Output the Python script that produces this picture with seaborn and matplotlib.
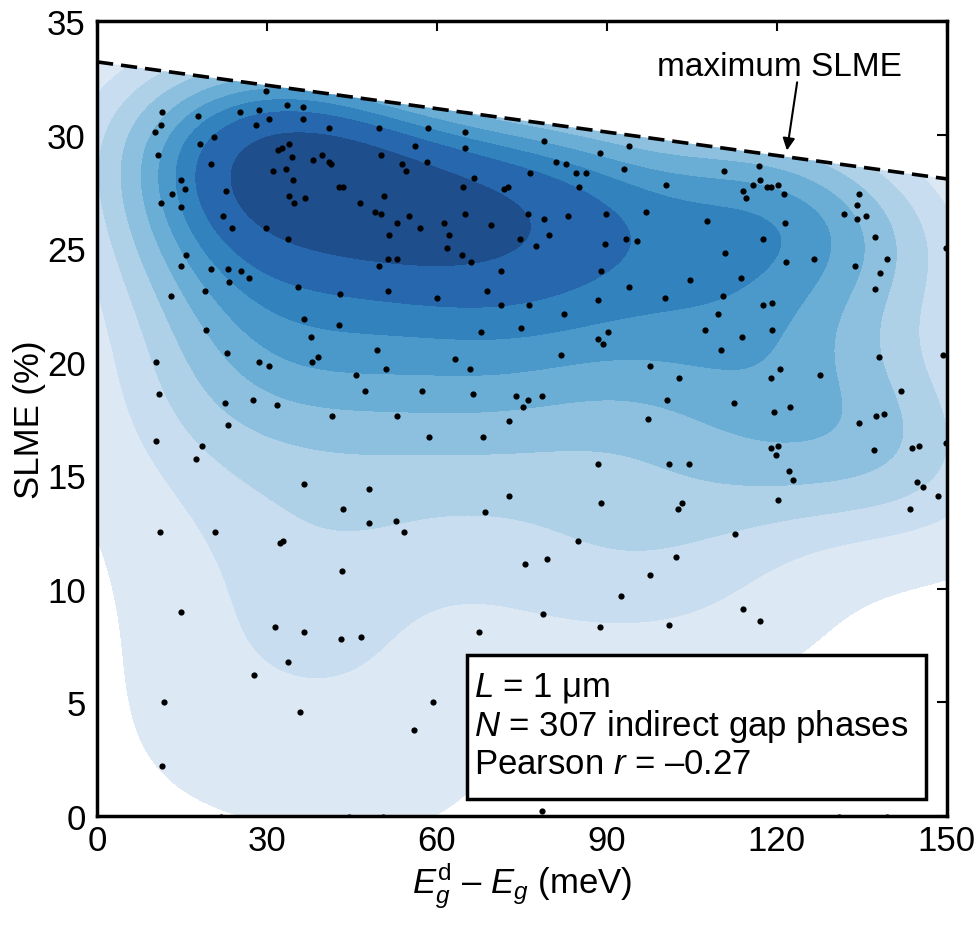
import numpy as np
import pandas as pd
import matplotlib
matplotlib.use("Agg")
import matplotlib.pyplot as plt
from matplotlib.patches import Polygon, Rectangle
import seaborn as sns

# ---------------- data ----------------
delta_e = [  # E_g^d - E_g (meV)
    29.8, 33.5, 36.3, 11.5, 17.9, 25.2, 28.6, 30.3, 36.3, 11.3, 28.1, 10.2, 20.6, 18.2, 33.9,
    31.9, 32.7, 10.8, 34.5, 38.1, 20.1, 31.0, 33.4, 34.6, 14.9, 15.6, 13.3, 22.8, 33.9, 34.8,
    36.8, 11.3, 14.8, 22.3, 23.8, 29.8, 33.8, 15.7, 14.8, 20.1, 23.2, 25.4, 26.8, 23.3, 35.4,
    13.0, 19.0, 36.5, 19.2, 37.8, 23.0, 10.4, 28.6, 30.3, 37.9, 10.9, 22.6, 27.6, 31.8,
    40.9, 49.7, 58.5, 64.9, 56.1, 65.0, 50.2, 58.2, 39.8, 40.9, 41.3, 53.9, 54.6, 66.6, 64.6,
    71.9, 72.5, 42.8, 43.5, 50.6, 46.4, 49.1, 50.1, 55.0, 53.0, 57.0, 61.2, 64.9, 69.6, 74.7,
    51.5, 62.1, 61.8, 64.5, 66.1, 51.3, 53.0, 49.7, 71.4, 42.9, 51.3, 60.1, 68.8, 71.4, 42.8,
    49.5, 39.1, 51.1, 45.8, 63.2, 65.8, 67.8, 74.9, 47.3, 57.3, 66.4, 73.9, 41.5, 53.0, 75.2,
    78.9, 93.9, 88.8, 81.1, 82.8, 93.0, 76.5, 84.5, 86.3, 110.7, 100.5, 85.1, 97.0, 107.6, 76.0,
    78.9, 83.1, 89.9, 79.8, 77.5, 89.6, 93.3, 95.3, 110.9, 88.9, 93.9, 104.7, 76.3, 82.5, 88.4,
    100.3, 110.5, 109.6, 90.2, 88.4, 89.3, 107.4, 110.1, 81.9, 97.7, 102.8, 76.1, 78.6, 100.6, 112.4,
    97.3,
    116.9, 117.1, 115.8, 118.3, 119.0, 120.3, 114.1, 114.6, 121.2, 134.6, 134.2, 131.9, 134.1, 135.7, 121.5,
    117.5, 137.3, 149.9, 121.7, 126.6, 133.9, 139.5, 138.3, 137.3, 113.7, 117.6, 119.2, 119.2, 113.9, 149.3,
    138.0, 120.5, 119.0, 127.7, 141.9, 119.5, 122.4, 137.6, 139.0,
    134.5, 119.0, 120.2, 119.8, 137.2, 143.8, 145.2, 149.9, 122.2, 122.8, 120.2, 144.7, 145.9, 148.5, 143.6,
    112.6, 114.0, 117.1,
    88.4, 101.0, 104.5, 88.9, 103.2, 102.6, 85.0, 75.6, 79.5, 102.3, 97.7, 92.5, 78.8, 88.8, 101.0,
    78.6,
    23.2, 10.4, 18.6, 17.5, 36.6, 11.1, 20.8, 32.3, 32.9, 14.9, 31.4, 36.6, 33.8, 27.8, 11.8,
    35.9, 11.5,
    72.8, 58.6, 68.1, 48.1, 72.7, 43.5, 48.1, 52.8, 54.2, 68.5, 43.3, 43.1, 46.6, 67.4, 59.3,
    56.0,
    21.9, 44.5, 50.4, 131.0, 139.5,
]
slme = [  # SLME (%)
    31.9, 31.3, 31.2, 31.0, 30.8, 31.0, 31.1, 30.7, 30.7, 30.4, 30.4, 30.1, 29.9, 29.6, 29.6,
    29.3, 29.4, 29.1, 29.0, 28.9, 28.7, 28.4, 28.5, 28.0, 28.0, 27.6, 27.4, 27.5, 27.3, 27.0,
    27.2, 27.0, 26.8, 26.4, 25.9, 25.9, 25.4, 24.7, 24.2, 24.1, 24.1, 24.0, 23.7, 23.5, 23.3,
    22.9, 23.1, 21.9, 21.4, 21.1, 20.4, 20.0, 20.0, 19.8, 20.0, 18.6, 18.2, 18.3, 18.1,
    30.3, 30.3, 30.3, 30.1, 29.5, 29.4, 29.1, 28.8, 29.1, 28.8, 28.7, 28.7, 28.4, 28.1, 27.7,
    27.6, 27.7, 27.7, 27.7, 27.3, 27.0, 26.6, 26.5, 26.4, 26.1, 25.9, 26.1, 26.5, 26.0, 25.4,
    25.6, 25.6, 25.0, 24.7, 24.4, 24.5, 24.5, 24.2, 24.0, 23.0, 23.1, 22.8, 23.1, 22.5, 21.6,
    20.5, 20.2, 19.7, 19.4, 20.1, 19.7, 21.3, 21.5, 18.7, 18.7, 18.6, 18.5, 17.6, 17.6, 18.0,
    29.7, 29.5, 29.2, 28.8, 28.7, 28.5, 28.3, 28.3, 28.3, 28.4, 27.8, 27.7, 26.6, 26.2, 26.5,
    26.3, 26.4, 26.5, 25.6, 25.1, 25.2, 25.4, 25.3, 24.8, 24.0, 23.3, 23.6, 22.5, 22.1, 22.7,
    22.8, 22.9, 22.1, 21.3, 21.0, 20.8, 21.4, 20.5, 20.3, 19.8, 19.3, 18.3, 18.5, 18.3, 18.2,
    17.5,
    28.6, 28.0, 27.8, 27.7, 27.7, 27.8, 27.5, 27.2, 27.4, 27.4, 26.9, 26.5, 26.3, 26.4, 26.1,
    25.4, 25.5, 25.0, 24.4, 24.5, 24.2, 24.5, 23.9, 23.2, 23.7, 22.5, 22.6, 21.4, 21.1, 20.3,
    20.2, 19.7, 19.3, 19.4, 18.7, 17.8, 18.0, 17.6, 17.7,
    17.3, 16.2, 16.3, 15.9, 16.1, 16.2, 16.3, 16.4, 15.2, 14.8, 13.9, 14.7, 14.5, 14.1, 13.5,
    12.4, 9.1, 8.6,
    15.5, 15.5, 15.5, 13.8, 13.8, 13.5, 12.1, 11.1, 11.3, 11.4, 10.6, 9.7, 8.9, 8.3, 8.4,
    0.2,
    17.2, 16.5, 16.3, 15.7, 14.6, 12.5, 12.5, 12.0, 12.1, 9.0, 8.3, 8.1, 6.8, 6.2, 5.0,
    4.6, 2.2,
    17.4, 16.7, 16.7, 14.4, 14.1, 13.5, 12.9, 13.0, 12.5, 13.4, 10.8, 7.8, 7.9, 8.1, 5.0,
    3.8,
    -0.05, -0.05, -0.05, -0.05, -0.05,
]
max_slme_x = [0.0, 150.0]
max_slme_y = [33.2, 28.05]
x_ticks = [0, 30, 60, 90, 120, 150]
y_ticks = [0, 5, 10, 15, 20, 25, 30, 35]
info_lines = [r"$L$ = 1 μm", r"$N$ = 307 indirect gap phases", r"Pearson $r$ = –0.27"]

n = min(len(delta_e), len(slme))
xs = np.asarray(delta_e[:n], dtype=float)
ys = np.asarray(slme[:n], dtype=float)

# ---------------- style ----------------
sns.set_theme(style="white")
plt.rcParams["font.family"] = ["Liberation Sans", "DejaVu Sans"]
plt.rcParams["mathtext.fontset"] = "custom"
plt.rcParams["mathtext.rm"] = "Liberation Sans"
plt.rcParams["mathtext.it"] = "Liberation Sans:italic"
plt.rcParams["mathtext.bf"] = "Liberation Sans:bold"
for key in ["text.color", "axes.labelcolor", "xtick.color", "ytick.color"]:
    plt.rcParams[key] = "black"

band_colors = ["#dce9f5", "#c9ddf0", "#aed1e7", "#8cc0de", "#6aaed6",
               "#4b98ca", "#3282be", "#2767ad", "#1f4e8d"]

fig = plt.figure(figsize=(9.8, 9.28), dpi=100)
ax = fig.add_axes([0.099, 0.1196, 0.867, 0.8567])

n_before = len(ax.collections)
sns.kdeplot(x=xs, y=ys, fill=True, levels=10, thresh=0.05, bw_adjust=1.0,
            cmap="Blues", ax=ax)
kde_colls = ax.collections[n_before:]

# clip the density fill to the region below the maximum-SLME line
slope = (max_slme_y[1] - max_slme_y[0]) / (max_slme_x[1] - max_slme_x[0])
xl, xr = -20, 170
clip_poly = Polygon([(xl, max_slme_y[0] + slope * xl), (xr, max_slme_y[0] + slope * xr),
                     (xr, -20), (xl, -20)], closed=True, transform=ax.transData,
                    fc="none", ec="none")
ax.add_patch(clip_poly)
for coll in kde_colls:
    coll.set_clip_path(clip_poly)
    coll.set_zorder(1)
    if len(coll.get_paths()) == len(band_colors):
        coll.set_array(None)
        coll.set_facecolor(band_colors)

sns.scatterplot(x=xs, y=ys, color="black", s=20, linewidth=0,
                ax=ax, zorder=3)

sns.lineplot(x=max_slme_x, y=max_slme_y, color="black", lw=2.6,
             linestyle=(0, (4.5, 2.2)), ax=ax, zorder=4)

ax.text(120.5, 33.0, "maximum SLME", ha="center", va="center", fontsize=24)
ax.annotate("", xy=(121.8, 29.3), xytext=(123.6, 32.3),
            arrowprops=dict(arrowstyle="-|>", color="black", lw=1.5,
                            mutation_scale=18, shrinkA=0, shrinkB=0))

# info box
ax.add_patch(Rectangle((65.3, 0.75), 81.0, 6.35, fc="white", ec="black",
                       lw=2.5, zorder=5))
for txt, yy in zip(info_lines, [5.68, 4.0, 2.29]):
    ax.text(66.5, yy, txt, fontsize=25, ha="left", va="center", zorder=6)

ax.set_xlim(0, 150)
ax.set_ylim(0, 35)
ax.set_xticks(x_ticks)
ax.set_yticks(y_ticks)
ax.tick_params(direction="in", top=True, right=True, length=7, width=1.5,
               labelsize=25, colors="black")
ax.tick_params(axis="x", pad=6)
ax.tick_params(axis="y", pad=8)
for sp in ax.spines.values():
    sp.set_visible(True)
    sp.set_color("black")
    sp.set_linewidth(2.5)

ax.set_xlabel(r"$E_g^{\mathrm{d}}$ – $E_g$ (meV)", fontsize=25, labelpad=2)
ax.set_ylabel("SLME (%)", fontsize=25, labelpad=1)

fig.savefig("out.png", dpi=100)
